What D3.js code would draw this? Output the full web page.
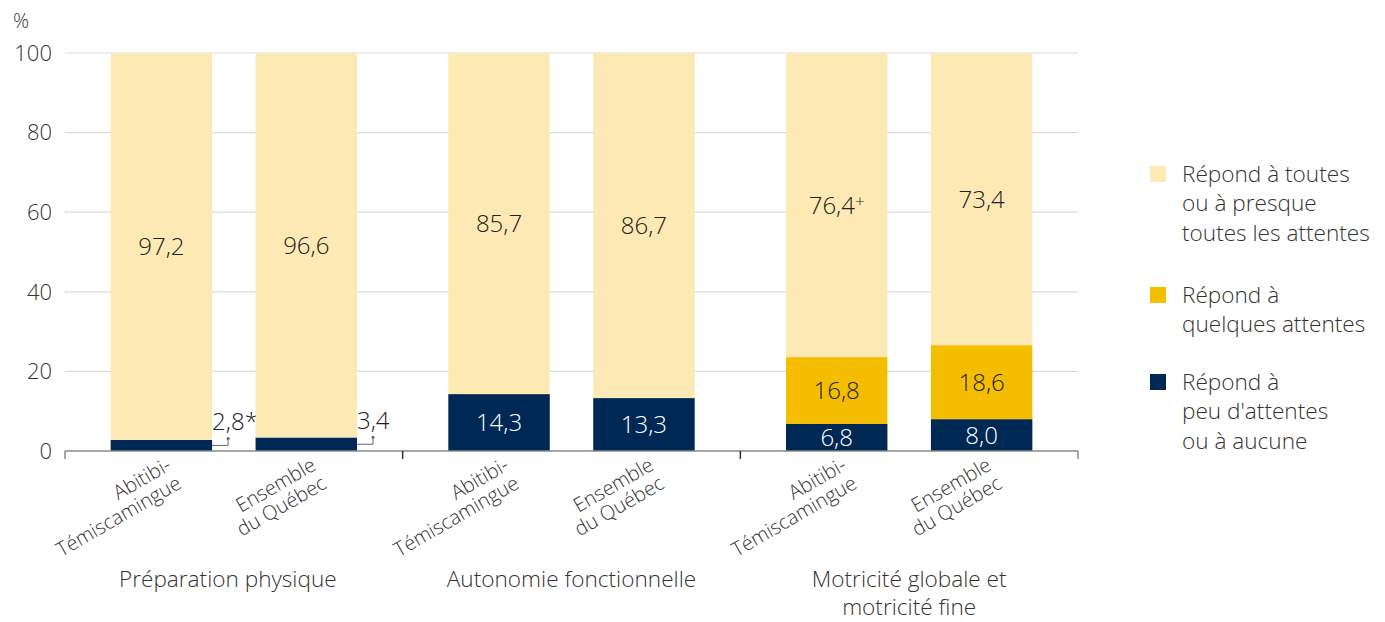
<!DOCTYPE html>
<html>
<head>
<meta charset="utf-8">
<script src="https://d3js.org/d3.v7.min.js"></script>
<style>
  body { margin: 0; background: #fff; }
  svg text { font-family: "Open Sans", sans-serif; font-weight: 300; }
</style>
</head>
<body>
<svg id="chart" width="1385" height="622"></svg>
<script>
// data
const groups = ["Préparation physique", "Autonomie fonctionnelle", "Motricité globale et|motricité fine"];
const regions = ["Abitibi-|Témiscamingue", "Ensemble|du Québec"];
const peu = [2.8, 3.4, 14.3, 13.3, 6.8, 8.0];
const quelques = [0, 0, 0, 0, 16.8, 18.6];
const toutes = [97.2, 96.6, 85.7, 86.7, 76.4, 73.4];
const peuNotes = ["*", "", "", "", "", ""];
const toutesNotes = ["", "", "", "", "+", ""];
const yTicks = [0, 20, 40, 60, 80, 100];
const legendLabels = [
  "Répond à toutes|ou à presque|toutes les attentes",
  "Répond à|quelques attentes",
  "Répond à|peu d'attentes|ou à aucune"
];

const colors = { toutes: "#fde9b3", quelques: "#f5bd00", peu: "#002855" };

const svg = d3.select("#chart");
const plotLeft = 65, plotRight = 1078, plotTop = 53, plotBottom = 451;

const x0 = d3.scaleBand().domain(groups).range([plotLeft, plotRight]);
const x1 = d3.scaleBand().domain(regions).range([0, x0.bandwidth()])
  .paddingInner(0.3).paddingOuter(0.315);
const y = d3.scaleLinear().domain([0, 100]).range([plotBottom, plotTop]);

const fmt = v => v.toFixed(1).replace(".", ",");

// grid
svg.append("g").selectAll("line").data(yTicks.filter(d => d > 0)).join("line")
  .attr("x1", plotLeft).attr("x2", plotRight)
  .attr("y1", d => y(d)).attr("y2", d => y(d))
  .attr("stroke", "#dcdcdc").attr("stroke-width", 1.2);

// y labels
svg.append("g").selectAll("text").data(yTicks).join("text")
  .attr("x", 52).attr("y", d => y(d)).attr("dy", "0.35em")
  .attr("text-anchor", "end").attr("font-size", 22).attr("fill", "#333")
  .text(d => d);
svg.append("text").attr("x", 13).attr("y", 28).attr("font-size", 20).attr("fill", "#333").text("%");

// rows
const rows = [];
groups.forEach((g, gi) => regions.forEach((r, ri) => {
  const i = gi * 2 + ri;
  rows.push({ g, r, i, x: x0(g) + x1(r), peu: peu[i], quelques: quelques[i], toutes: toutes[i] });
}));

const bw = x1.bandwidth();
rows.forEach(d => {
  const segs = [
    { key: "peu", y0: 0, y1: d.peu, note: peuNotes[d.i], color: "#fff" },
    { key: "quelques", y0: d.peu, y1: d.peu + d.quelques, note: "", color: "#222" },
    { key: "toutes", y0: d.peu + d.quelques, y1: d.peu + d.quelques + d.toutes, note: toutesNotes[d.i], color: "#222" }
  ];
  segs.forEach(s => {
    const v = s.y1 - s.y0;
    if (v <= 0) return;
    const top1 = Math.min(s.y1, 100);
    svg.append("rect")
      .attr("x", d.x).attr("width", bw)
      .attr("y", y(top1)).attr("height", y(s.y0) - y(top1))
      .attr("fill", colors[s.key]);
    if (v >= 5) {
      const t = svg.append("text")
        .attr("x", d.x + bw / 2).attr("y", y((s.y0 + top1) / 2)).attr("dy", "0.36em")
        .attr("text-anchor", "middle").attr("font-size", 24).attr("fill", s.color)
        .attr("font-weight", 400)
        .text(fmt(v));
      if (s.note) t.append("tspan").attr("dy", "-0.4em").attr("font-size", 17).text(s.note);
    } else {
      // leader line + label outside
      const ym = y((s.y0 + s.y1) / 2);
      const xe = d.x + bw + 16;
      svg.append("path")
        .attr("d", `M${d.x + bw},${ym}H${xe}V${ym - 7}`)
        .attr("fill", "none").attr("stroke", "#666").attr("stroke-width", 1);
      svg.append("circle").attr("cx", xe).attr("cy", ym - 7).attr("r", 1.5).attr("fill", "#666");
      svg.append("text")
        .attr("x", d.x + bw).attr("y", ym - 15)
        .attr("font-size", 24).attr("fill", "#222").attr("font-weight", 400)
        .text(fmt(v) + s.note);
    }
  });

  // rotated region labels
  const lines = d.r.split("|");
  const t = svg.append("text")
    .attr("transform", `translate(${d.x + bw / 2 + 11},${plotBottom + 18}) rotate(-30)`)
    .attr("text-anchor", "end").attr("font-size", 20).attr("fill", "#333");
  lines.forEach((l, li) => t.append("tspan").attr("x", 0).attr("dy", li === 0 ? 0 : "1.05em").text(l));
});

// x axis
svg.append("line").attr("x1", plotLeft).attr("x2", plotRight).attr("y1", plotBottom).attr("y2", plotBottom)
  .attr("stroke", "#888").attr("stroke-width", 1.5);
const bounds = groups.map(g => x0(g)).concat([plotRight]);
svg.append("g").selectAll("line").data(bounds).join("line")
  .attr("x1", d => d).attr("x2", d => d).attr("y1", plotBottom).attr("y2", plotBottom + 8)
  .attr("stroke", (d, i) => (i === 0 || i === bounds.length - 1) ? "#888" : "#333")
  .attr("stroke-width", 1.5);

// group labels
groups.forEach((g, gi) => {
  const cx = x0(g) + x0.bandwidth() / 2 - (gi === 0 ? 6 : 0);
  const t = svg.append("text").attr("x", cx).attr("y", 587)
    .attr("text-anchor", "middle").attr("font-size", 22.6).attr("fill", "#333");
  g.split("|").forEach((l, li) => t.append("tspan").attr("x", cx)
    .attr("dy", li === 0 ? 0 : 28).text(l));
});

// legend
const legendKeys = ["toutes", "quelques", "peu"];
const legendTop = [174, 295, 382];
legendKeys.forEach((k, i) => {
  svg.append("rect").attr("x", 1150).attr("y", legendTop[i] - 8).attr("width", 16).attr("height", 16)
    .attr("fill", colors[k]);
  const t = svg.append("text").attr("x", 1182).attr("y", legendTop[i])
    .attr("font-size", 22.6).attr("fill", "#333");
  legendLabels[i].split("|").forEach((l, li) => t.append("tspan").attr("x", 1182)
    .attr("dy", li === 0 ? "0.35em" : 29.5).text(l));
});
</script>
</body>
</html>
